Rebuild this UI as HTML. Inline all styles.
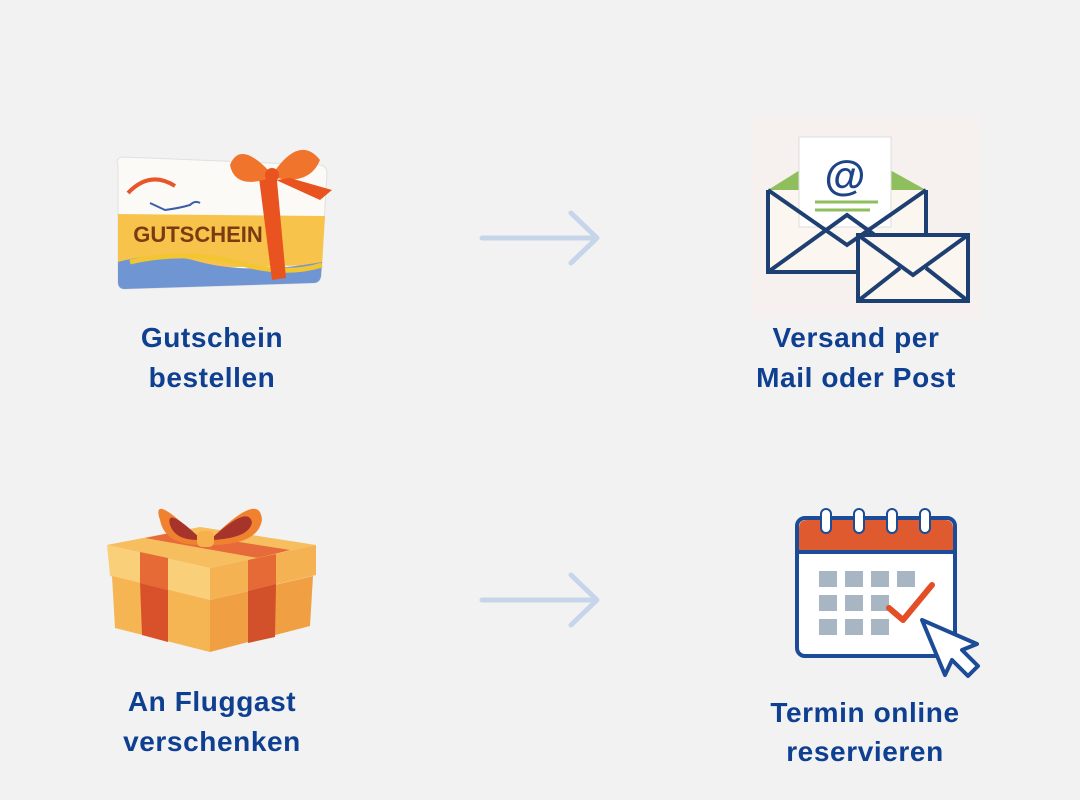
<!DOCTYPE html>
<html><head><meta charset="utf-8"><style>
html,body{margin:0;padding:0;background:#f2f2f2;}
svg{display:block}
text{font-family:"Liberation Sans",sans-serif;font-weight:bold;fill:#0e3f91;font-size:28px;letter-spacing:0.6px;text-anchor:middle}
</style></head><body>
<svg width="1080" height="800" viewBox="0 0 1080 800">
<rect width="1080" height="800" fill="#f2f2f2"/>
<g stroke="#c6d5ea" stroke-width="5" fill="none" stroke-linecap="round" stroke-linejoin="round">
<path d="M482 238 H597 M571 213 L597 238 L571 263"/>
<path d="M482 600 H597 M571 575 L597 600 L571 625"/>
</g>
<g>
<path d="M118 165 Q115 158 123 157 L320 165 Q327 166 327 173 L321 276 Q320 283 313 283 L125 289 Q118 289 118 282 Z" fill="#fbfaf6" stroke="#e0e0e0"/>
<path d="M118 214 L325 216 L322 265 L118 270 Z" fill="#f8c34a"/>
<path d="M118 262 Q160 250 200 262 Q250 275 322 262 L321 276 Q320 283 313 283 L125 289 Q118 289 118 282 Z" fill="#6f95d3"/>
<path d="M130 262 Q190 248 250 266 Q290 275 322 265" stroke="#f2c533" stroke-width="5" fill="none"/>
<text x="198" y="242" style="font-size:22px;fill:#7a3a12;letter-spacing:0">GUTSCHEIN</text>
<path d="M128 193 Q150 170 175 186" stroke="#e8552a" stroke-width="4" fill="none"/>
<path d="M150 203 L165 210 Q180 208 190 205 Q195 200 200 203" stroke="#3b5ea8" stroke-width="2" fill="none"/>
<path d="M258 170 L272 280 L286 278 L276 170 Z" fill="#e9531f"/>
<path d="M270 172 Q240 140 230 165 Q235 190 270 178 Z" fill="#f0742c"/>
<path d="M274 172 Q300 135 320 160 Q310 185 276 178 Z" fill="#f0742c"/>
<path d="M276 180 L320 200 L332 190 L290 178 Z" fill="#e9531f"/>
<circle cx="272" cy="175" r="7" fill="#e9531f"/>
</g>
<g>
<rect x="752" y="118" width="228" height="200" fill="#f6f0ee"/>
<path d="M768 190 L800 170 L800 210 Z" fill="#8fbf5c"/>
<path d="M926 190 L890 170 L890 210 Z" fill="#8fbf5c"/>
<path d="M768 190 L768 272 L926 272 L926 190" fill="#fbf6ef" stroke="#1e3f72" stroke-width="4"/>
<rect x="799" y="137" width="92" height="90" fill="#fff" stroke="#ddd"/>
<text x="845" y="190" style="font-size:42px;fill:#1d4486;letter-spacing:0">@</text>
<path d="M815 202 H878 M815 210 H870" stroke="#8fbf5c" stroke-width="3"/>
<path d="M768 272 L847 215 L926 272" fill="none" stroke="#1e3f72" stroke-width="4"/>
<path d="M768 190 L847 245 L926 190" fill="none" stroke="#1e3f72" stroke-width="4"/>
<rect x="858" y="235" width="110" height="66" fill="#fbf6ef" stroke="#1e3f72" stroke-width="4"/>
<path d="M858 235 L913 275 L968 235 M858 301 L900 268 M968 301 L926 268" fill="none" stroke="#1e3f72" stroke-width="4"/>
</g>
<g>
<path d="M107 545 L200 527 L316 545 L210 568 Z" fill="#f6be5e"/>
<path d="M145 538 L175 532 L290 550 L258 558 Z" fill="#e66a3a"/>
<path d="M107 545 L210 568 L210 600 L110 576 Z" fill="#f9cf7a"/>
<path d="M210 568 L316 545 L316 575 L210 600 Z" fill="#f5b253"/>
<path d="M112 576 L210 600 L210 652 L115 628 Z" fill="#f6b553"/>
<path d="M210 600 L313 576 L310 626 L210 652 Z" fill="#f0a042"/>
<path d="M140 552 L168 558 L168 590 L140 583 Z" fill="#e56a35"/>
<path d="M140 583 L168 590 L168 642 L142 635 Z" fill="#d9512a"/>
<path d="M248 560 L276 554 L276 584 L248 591 Z" fill="#e56a35"/>
<path d="M248 591 L276 584 L275 637 L248 643 Z" fill="#d2502a"/>
<path d="M200 540 Q150 490 160 520 Q165 545 200 545 Z" fill="#f0822f"/>
<path d="M200 538 Q165 505 170 525 Q175 540 198 540 Z" fill="#a7342b"/>
<path d="M210 540 Q260 490 262 520 Q258 545 210 545 Z" fill="#f0822f"/>
<path d="M212 538 Q248 505 252 522 Q250 538 212 540 Z" fill="#a7342b"/>
<rect x="197" y="531" width="17" height="16" rx="5" fill="#f6b14c"/>
</g>
<g>
<rect x="797" y="518" width="158" height="138" rx="8" fill="#fff" stroke="#1c4b97" stroke-width="4"/>
<path d="M799 528 Q799 520 807 520 H945 Q953 520 953 528 V552 H799 Z" fill="#df5a2e"/>
<line x1="799" y1="552" x2="953" y2="552" stroke="#1c4b97" stroke-width="4"/>
<g fill="#fff" stroke="#1c4b97" stroke-width="2">
<rect x="821" y="509" width="10" height="24" rx="5"/><rect x="854" y="509" width="10" height="24" rx="5"/>
<rect x="887" y="509" width="10" height="24" rx="5"/><rect x="920" y="509" width="10" height="24" rx="5"/>
</g>
<g fill="#a8b5c2">
<rect x="819" y="571" width="18" height="16"/><rect x="845" y="571" width="18" height="16"/><rect x="871" y="571" width="18" height="16"/><rect x="897" y="571" width="18" height="16"/>
<rect x="819" y="595" width="18" height="16"/><rect x="845" y="595" width="18" height="16"/><rect x="871" y="595" width="18" height="16"/>
<rect x="819" y="619" width="18" height="16"/><rect x="845" y="619" width="18" height="16"/><rect x="871" y="619" width="18" height="16"/>
</g>
<path d="M889 608 L903 620 L932 585" stroke="#e44e26" stroke-width="6" fill="none" stroke-linecap="round" stroke-linejoin="round"/>
<path d="M922 620 L945 675 L952 660 L968 676 L978 666 L962 650 L977 644 Z" fill="#fff" stroke="#1c4b97" stroke-width="4" stroke-linejoin="round"/>
</g>
<text x="212" y="347">Gutschein</text>
<text x="212" y="387">bestellen</text>
<text x="856" y="347">Versand per</text>
<text x="856" y="387">Mail oder Post</text>
<text x="212" y="711">An Fluggast</text>
<text x="212" y="751">verschenken</text>
<text x="865" y="722">Termin online</text>
<text x="865" y="761">reservieren</text>
</svg>
</body></html>
